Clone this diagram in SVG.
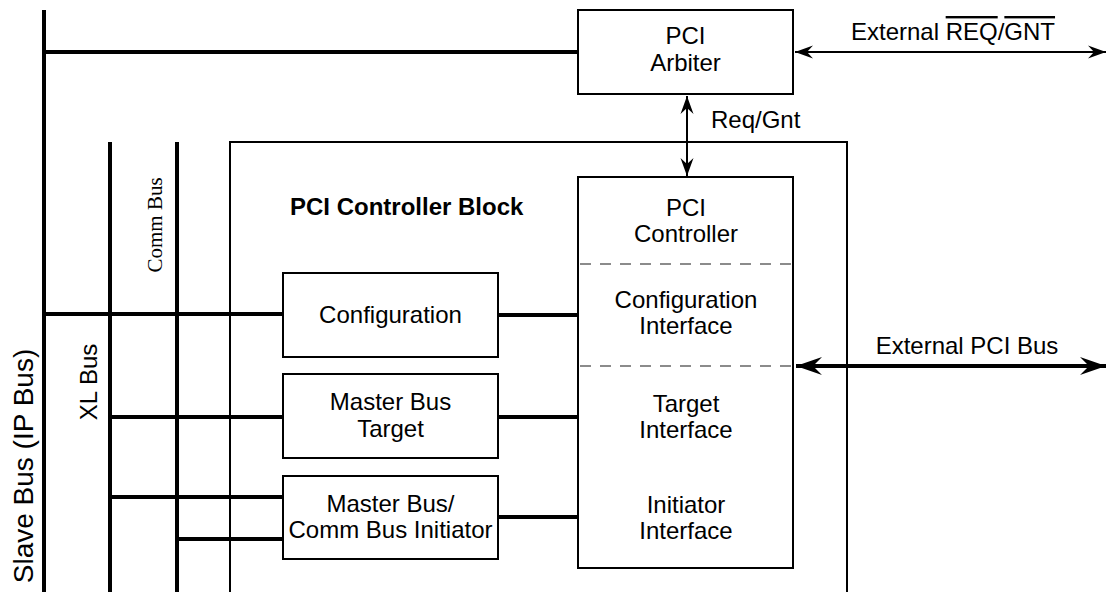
<svg xmlns="http://www.w3.org/2000/svg" width="1106" height="592" viewBox="0 0 1106 592">
<style>
.t{font-family:"Liberation Sans",Arial,sans-serif;font-size:24px;fill:#000;text-anchor:middle}
.b{font-weight:bold;text-anchor:start}
.s{font-family:"Liberation Serif","Times New Roman",serif;font-size:21px;fill:#000;text-anchor:middle}
.box{fill:#fff;stroke:#000;stroke-width:2}
.bus{stroke:#000;stroke-width:4;fill:none}
.thin{stroke:#000;stroke-width:2;fill:none}
.dash{stroke:#666;stroke-width:1.6;stroke-dasharray:11 9;fill:none}
.ov{text-decoration:overline}
</style>
<defs>
<marker id="aS" markerUnits="userSpaceOnUse" markerWidth="20" markerHeight="14" viewBox="-18 -7 20 14" refX="0" refY="0" orient="auto-start-reverse">
<path d="M0,0 L-18,-6.5 L-12,0 L-18,6.5 Z" fill="#000"/>
</marker>
<marker id="aL" markerUnits="userSpaceOnUse" markerWidth="28" markerHeight="20" viewBox="-26 -10 28 20" refX="0" refY="0" orient="auto-start-reverse">
<path d="M0,0 L-26,-9 L-17,0 L-26,9 Z" fill="#000"/>
</marker>
</defs>
<rect width="1106" height="592" fill="#fff"/>

<g id="pci-controller-block">
<path class="thin" d="M230,593 V142 H847 V593"/>
<text class="t b" x="290" y="215">PCI Controller Block</text>
</g>

<g id="connectors">
<line class="bus" x1="44" y1="10" x2="44" y2="592"/>
<line class="bus" x1="44" y1="52" x2="578" y2="52"/>
<line class="bus" x1="110" y1="142" x2="110" y2="592"/>
<line class="bus" x1="177" y1="142" x2="177" y2="592"/>
<line class="bus" x1="44" y1="314" x2="283" y2="314"/>
<line class="bus" x1="110" y1="417" x2="283" y2="417"/>
<line class="bus" x1="110" y1="497" x2="283" y2="497"/>
<line class="bus" x1="177" y1="539" x2="283" y2="539"/>
<line class="bus" x1="498" y1="315" x2="578" y2="315"/>
<line class="bus" x1="498" y1="417" x2="578" y2="417"/>
<line class="bus" x1="498" y1="517" x2="578" y2="517"/>
<line class="thin" x1="795" y1="52" x2="1106" y2="52" marker-start="url(#aS)" marker-end="url(#aS)"/>
<line class="thin" x1="687" y1="96" x2="687" y2="176" marker-start="url(#aS)" marker-end="url(#aS)"/>
<line stroke="#000" stroke-width="4" x1="796" y1="366" x2="1106" y2="366" marker-start="url(#aL)" marker-end="url(#aL)"/>
</g>

<g id="bus-labels">
<text class="t" style="font-size:28px" transform="translate(33,466) rotate(-90)">Slave Bus (IP Bus)</text>
<text class="t" transform="translate(97,382) rotate(-90)">XL Bus</text>
<text class="s" transform="translate(162,225) rotate(-90)">Comm Bus</text>
<text class="t" x="953" y="40">External <tspan class="ov">REQ</tspan>/<tspan class="ov">GNT</tspan></text>
<text class="t" style="text-anchor:start" x="711" y="128">Req/Gnt</text>
<text class="t" x="967" y="354">External PCI Bus</text>
</g>

<g id="pci-arbiter">
<rect class="box" x="578" y="10" width="215" height="84"/>
<text class="t" x="685.5" y="44">PCI</text>
<text class="t" x="685.5" y="71">Arbiter</text>
</g>

<g id="pci-controller">
<rect class="box" x="578" y="177" width="215" height="391"/>
<line class="dash" x1="580" y1="264" x2="792" y2="264"/>
<line class="dash" x1="580" y1="366" x2="792" y2="366"/>
<text class="t" x="686" y="216">PCI</text>
<text class="t" x="686" y="242">Controller</text>
<text class="t" x="686" y="308">Configuration</text>
<text class="t" x="686" y="334">Interface</text>
<text class="t" x="686" y="412">Target</text>
<text class="t" x="686" y="438">Interface</text>
<text class="t" x="686" y="513">Initiator</text>
<text class="t" x="686" y="539">Interface</text>
</g>

<g id="configuration">
<rect class="box" x="283" y="273" width="215" height="84"/>
<text class="t" x="390.5" y="323">Configuration</text>
</g>

<g id="master-bus-target">
<rect class="box" x="283" y="374" width="215" height="84"/>
<text class="t" x="390.5" y="410">Master Bus</text>
<text class="t" x="390.5" y="437">Target</text>
</g>

<g id="master-comm-initiator">
<rect class="box" x="283" y="476" width="215" height="83"/>
<text class="t" x="390.5" y="512">Master Bus/</text>
<text class="t" x="390.5" y="538">Comm Bus Initiator</text>
</g>
</svg>
